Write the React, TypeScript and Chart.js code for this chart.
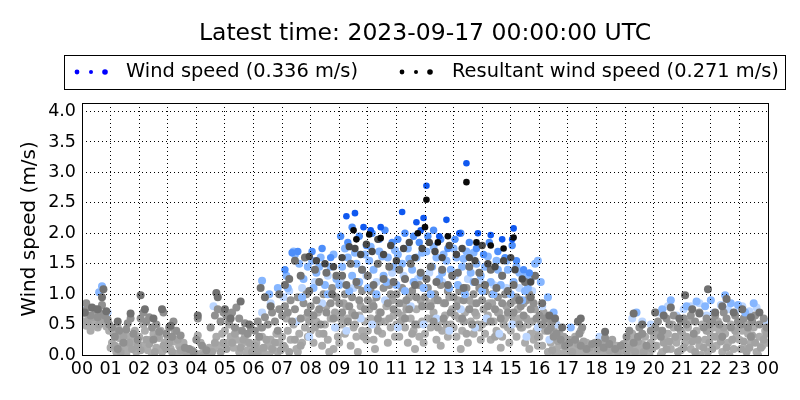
import React, { useEffect, useRef } from "react";
import { Chart, registerables } from "chart.js";

Chart.register(...registerables);

const titleText = "Latest time: 2023-09-17 00:00:00 UTC";
const yAxisTitle = "Wind speed (m/s)";
const legendLabels = ["Wind speed (0.336 m/s)", "Resultant wind speed (0.271 m/s)"];
const hourLabels = ["00","01","02","03","04","05","06","07","08","09","10","11","12","13","14","15","16","17","18","19","20","21","22","23","00"];
const yTickValues = [0, 0.5, 1, 1.5, 2, 2.5, 3, 3.5, 4];
const yMax = 4.14;

// [hour of day, speed m/s] — oldest days (gray)
const oldestGray: number[][] = [
  [0.05,0.55],[0.15,0.48],[0.25,0.62],[0.35,0.5],[0.45,0.58],[0.55,0.45],[0.65,0.6],[0.75,0.52],[0.85,0.47],[0.95,0.4],[0.1,0.68],[0.5,0.7],[0.3,0.4],
  [1.05,0.2],[1.1,0.35],[1.2,0.05],[1.3,0.28],[1.4,0.15],[1.5,0.38],[1.6,0.1],[1.7,0.3],[1.8,0.22],[1.9,0.05],[1.25,0.45],[1.55,0.02],[1.85,0.4],[1.0,0.12],
  [2.0,0.3],[2.1,0.15],[2.2,0.4],[2.3,0.08],[2.4,0.25],[2.5,0.35],[2.6,0.12],[2.7,0.28],[2.8,0.05],[2.9,0.2],[2.15,0.5],[2.45,0.02],[2.75,0.4],
  [3.0,0.3],[3.1,0.1],[3.2,0.22],[3.3,0.02],[3.4,0.15],[3.5,0.05],[3.6,0.0],[3.7,0.02],[3.8,0.0],[3.9,0.03],[3.25,0.38],[3.55,0.2],[3.85,0.08],
  [4.0,0.02],[4.1,0.0],[4.2,0.03],[4.3,0.0],[4.4,0.02],[4.5,0.0],[4.15,0.2],[4.6,0.1],[4.7,0.3],[4.8,0.15],[4.9,0.35],[4.45,0.12],[4.05,0.32],
  [5.0,0.4],[5.1,0.2],[5.2,0.3],[5.3,0.12],[5.4,0.25],[5.5,0.05],[5.6,0.18],[5.7,0.3],[5.8,0.08],[5.9,0.15],[5.15,0.5],[5.45,0.4],[5.75,0.02],
  [6.0,0.05],[6.1,0.2],[6.2,0.1],[6.3,0.3],[6.4,0.02],[6.5,0.15],[6.6,0.25],[6.7,0.08],[6.8,0.35],[6.9,0.2],[6.25,0.45],[6.55,0.0],[6.85,0.05],
  [7.0,0.3],[7.1,0.12],[7.2,0.4],[7.3,0.25],[7.4,0.5],[7.5,0.1],[7.6,0.35],[7.7,0.2],[7.8,0.45],[7.9,0.3],[7.15,0.6],[7.55,0.05],[7.85,0.62],
  [8.0,0.4],[8.1,0.2],[8.2,0.55],[8.3,0.35],[8.4,0.15],[8.5,0.5],[8.6,0.25],[8.7,0.6],[8.8,0.1],[8.9,0.45],[8.25,0.7],[8.65,0.05],[8.95,0.3],
  [9.0,0.2],[9.1,0.5],[9.2,0.35],[9.3,0.6],[9.4,0.15],[9.5,0.45],[9.6,0.3],[9.7,0.65],[9.8,0.4],[9.9,0.55],[9.25,0.8],[9.65,0.05],[9.95,0.25],
  [10.0,0.4],[10.1,0.6],[10.2,0.25],[10.3,0.5],[10.4,0.7],[10.5,0.35],[10.6,0.55],[10.7,0.2],[10.8,0.45],[10.9,0.65],[10.25,0.1],[10.65,0.8],[10.95,0.3],
  [11.0,0.5],[11.1,0.3],[11.2,0.65],[11.3,0.45],[11.4,0.2],[11.5,0.6],[11.6,0.4],[11.7,0.75],[11.8,0.3],[11.9,0.55],[11.25,0.85],[11.65,0.1],[11.95,0.2],
  [12.0,0.35],[12.1,0.6],[12.2,0.45],[12.3,0.7],[12.4,0.25],[12.5,0.55],[12.6,0.4],[12.7,0.65],[12.8,0.3],[12.9,0.5],[12.15,0.85],[12.55,0.15],[12.95,0.75],
  [13.0,0.45],[13.1,0.3],[13.2,0.6],[13.3,0.4],[13.4,0.7],[13.5,0.2],[13.6,0.55],[13.7,0.35],[13.8,0.65],[13.9,0.45],[13.25,0.1],[13.65,0.85],[13.95,0.25],
  [14.0,0.5],[14.1,0.35],[14.2,0.65],[14.3,0.25],[14.4,0.55],[14.5,0.4],[14.6,0.7],[14.7,0.3],[14.8,0.6],[14.9,0.45],[14.25,0.85],[14.65,0.12],[14.95,0.2],
  [15.0,0.4],[15.1,0.55],[15.2,0.3],[15.3,0.6],[15.4,0.45],[15.5,0.2],[15.6,0.5],[15.7,0.35],[15.8,0.25],[15.9,0.4],[15.25,0.75],[15.65,0.1],[15.95,0.15],
  [16.0,0.3],[16.1,0.15],[16.2,0.4],[16.3,0.05],[16.4,0.2],[16.5,0.3],[16.6,0.1],[16.7,0.02],[16.8,0.15],[16.9,0.05],[16.25,0.5],[16.55,0.0],[16.95,0.2],
  [17.0,0.05],[17.1,0.15],[17.2,0.02],[17.3,0.1],[17.4,0.0],[17.5,0.05],[17.6,0.12],[17.7,0.02],[17.8,0.08],[17.9,0.0],[17.25,0.3],[17.65,0.2],[17.45,0.4],
  [18.0,0.05],[18.1,0.15],[18.2,0.02],[18.3,0.1],[18.4,0.0],[18.5,0.12],[18.6,0.05],[18.7,0.15],[18.8,0.02],[18.9,0.08],[18.35,0.22],[18.65,0.0],[18.15,0.0],
  [19.0,0.1],[19.1,0.2],[19.2,0.05],[19.3,0.25],[19.4,0.12],[19.5,0.0],[19.6,0.18],[19.7,0.3],[19.8,0.08],[19.9,0.2],[19.25,0.35],[19.55,0.1],[19.85,0.02],
  [20.0,0.3],[20.1,0.15],[20.2,0.4],[20.3,0.05],[20.4,0.25],[20.5,0.35],[20.6,0.1],[20.7,0.45],[20.8,0.2],[20.9,0.3],[20.25,0.0],[20.65,0.5],[20.95,0.08],
  [21.0,0.35],[21.1,0.2],[21.2,0.45],[21.3,0.1],[21.4,0.3],[21.5,0.4],[21.6,0.15],[21.7,0.5],[21.8,0.25],[21.9,0.05],[21.25,0.55],[21.65,0.0],[21.95,0.38],
  [22.0,0.3],[22.1,0.45],[22.2,0.15],[22.3,0.4],[22.4,0.05],[22.5,0.35],[22.6,0.2],[22.7,0.5],[22.8,0.1],[22.9,0.3],[22.25,0.55],[22.65,0.0],[22.95,0.45],
  [23.0,0.25],[23.1,0.4],[23.2,0.1],[23.3,0.35],[23.4,0.2],[23.5,0.45],[23.6,0.05],[23.7,0.3],[23.8,0.15],[23.9,0.4],[23.25,0.5],[23.65,0.0],[23.95,0.2]
];

const oldGrayLow: number[][] = [
  [16.45,0.08],[16.65,0.22],[16.85,0.3],[17.05,0.25],[17.15,0.05],[17.35,0.18],[17.55,0.22],[17.75,0.12],[17.95,0.2],[18.05,0.1],[18.25,0.2],[18.45,0.08],
  [18.55,0.25],[18.75,0.05],[18.95,0.18],[19.05,0.05],[19.15,0.12],[19.35,0.05],[19.45,0.22],[19.65,0.05],[19.75,0.12],[19.95,0.1],[20.05,0.15],[20.15,0.35],
  [20.35,0.2],[20.45,0.1],[20.55,0.22],[20.75,0.3],[20.85,0.05],[20.95,0.4],[21.05,0.12],[21.15,0.3],[21.35,0.22],[21.45,0.05],[21.55,0.25],[21.75,0.12],
  [21.85,0.4],[21.95,0.2],[22.05,0.1],[22.15,0.3],[22.35,0.22],[22.45,0.45],[22.55,0.12],[22.75,0.25],[22.85,0.4],[23.05,0.1],[23.15,0.22],[23.25,0.05],
  [23.35,0.12],[23.45,0.32],[23.55,0.2],[23.75,0.12],[23.85,0.25],[23.95,0.35],
  [0.2,0.55],[0.4,0.62],[0.6,0.5],[0.8,0.58],[1.15,0.15],[1.35,0.05],[1.45,0.3],[1.65,0.2],[1.75,0.1],[1.95,0.15],[2.05,0.08],[2.25,0.25],[2.35,0.18],
  [2.55,0.05],[2.65,0.3],[2.85,0.15],[2.95,0.1],[3.05,0.2],[3.15,0.05],[3.35,0.25],[3.45,0.08],[3.65,0.05],[3.75,0.0],[3.95,0.0],[4.25,0.0],[4.35,0.02],
  [4.55,0.05],[4.65,0.2],[4.85,0.05],[4.95,0.2],[5.05,0.1],[5.25,0.2],[5.35,0.35],[5.55,0.12],[5.65,0.25],[5.85,0.2],[5.95,0.05],[6.05,0.15],[6.15,0.05],
  [6.35,0.12],[6.45,0.25],[6.65,0.1],[6.75,0.2],[6.95,0.08],[7.05,0.15],[7.25,0.05],[7.45,0.25],[7.65,0.15],
  [7.95,0.55],[8.05,0.65],[8.15,0.45],[8.45,0.35],[8.55,0.8],[8.85,0.7],[9.05,0.6],[9.15,0.85],[9.45,0.7],[9.55,0.5],[9.75,0.8],[9.85,0.3],[10.05,0.75],
  [10.15,0.85],[10.35,0.4],[10.45,0.55],[10.75,0.6],[10.85,0.9],[11.05,0.7],[11.15,0.55],[11.35,0.75],[11.45,0.95],[11.55,0.35],[11.75,0.5],[11.85,0.9],
  [12.05,0.8],[12.25,0.6],[12.35,0.9],[12.45,0.45],[12.65,0.85],[12.75,0.5],[12.85,0.95],[13.05,0.65],[13.15,0.9],[13.35,0.55],[13.45,0.35],[13.55,0.9],
  [13.75,0.7],[13.85,0.5],[14.05,0.75],[14.15,0.55],[14.35,0.85],[14.45,0.3],[14.55,0.7],[14.75,0.5],[14.85,0.8],[15.05,0.65],[15.15,0.9],[15.35,0.45],
  [15.45,0.85],[15.55,0.6],[15.75,0.55],[15.85,0.75],[15.95,0.3],[16.05,0.5],[16.15,0.7],[16.35,0.55],[16.5,0.42],[16.7,0.35],[16.8,0.28]
];

const olderGray: number[][] = [
  [0.05,0.72],[0.2,0.78],[0.3,0.65],[0.45,0.75],[0.6,0.7],[0.7,0.82],[0.8,0.65],[0.9,0.58],[0.15,0.85],[0.55,0.62],[0.95,0.5],
  [1.05,0.45],[1.15,0.3],[1.3,0.4],[1.45,0.2],[1.6,0.52],[1.7,0.6],[1.8,0.35],[1.95,0.25],[1.25,0.1],[1.55,0.42],
  [2.05,0.6],[2.15,0.7],[2.25,0.55],[2.35,0.62],[2.45,0.45],[2.6,0.5],[2.7,0.38],[2.85,0.7],[2.95,0.35],[2.5,0.25],
  [3.05,0.45],[3.15,0.3],[3.3,0.4],[3.45,0.32],[3.6,0.12],[3.75,0.1],[3.9,0.05],[3.2,0.55],
  [4.0,0.25],[4.05,0.6],[4.2,0.15],[4.5,0.45],[4.65,0.65],[4.75,0.75],[4.85,0.55],[4.95,0.7],[4.35,0.08],
  [5.05,0.65],[5.15,0.55],[5.25,0.7],[5.35,0.45],[5.5,0.6],[5.6,0.4],[5.7,0.52],[5.8,0.35],[5.9,0.45],[5.4,0.78],
  [6.05,0.4],[6.15,0.55],[6.3,0.45],[6.4,0.62],[6.5,0.5],[6.65,0.7],[6.75,0.55],[6.9,0.75],[6.2,0.3],[6.85,0.4],
  [7.0,0.65],[7.1,0.8],[7.2,0.7],[7.3,0.9],[7.45,0.75],[7.55,0.95],[7.65,0.6],[7.75,0.85],[7.9,0.7],[7.35,0.55],[7.85,1.0],
  [8.0,0.8],[8.1,0.65],[8.2,0.9],[8.3,0.75],[8.45,1.0],[8.55,0.7],[8.7,0.85],[8.8,0.6],[8.9,0.95],[8.35,0.5],[8.75,1.1],
  [9.0,0.85],[9.1,0.7],[9.2,1.0],[9.35,0.8],[9.45,0.95],[9.55,0.65],[9.7,0.9],[9.8,1.05],[9.9,0.75],[9.3,0.55],[9.65,1.15],
  [10.0,0.9],[10.1,1.05],[10.2,0.8],[10.3,0.95],[10.45,0.7],[10.55,1.1],[10.7,0.85],[10.8,1.0],[10.9,0.75],[10.35,0.6],[10.75,1.15],
  [11.0,1.0],[11.1,0.85],[11.2,1.1],[11.35,0.9],[11.45,0.75],[11.55,1.05],[11.7,0.95],[11.8,1.15],[11.9,0.8],[11.3,0.6],[11.65,0.5],
  [12.0,0.95],[12.1,1.1],[12.2,0.8],[12.35,1.0],[12.45,0.9],[12.55,1.15],[12.7,0.85],[12.8,1.05],[12.9,0.7],[12.3,0.55],[12.65,0.6],
  [13.0,0.95],[13.1,0.8],[13.2,1.05],[13.35,0.9],[13.45,1.1],[13.55,0.75],[13.7,1.0],[13.8,0.85],[13.9,1.1],[13.3,0.6],[13.65,0.5],
  [14.0,0.9],[14.1,1.05],[14.2,0.8],[14.35,1.0],[14.45,0.75],[14.55,0.95],[14.7,0.85],[14.8,1.0],[14.9,0.7],[14.3,0.55],[14.65,0.6],
  [15.0,0.85],[15.1,0.7],[15.2,0.95],[15.35,0.8],[15.45,0.65],[15.55,0.9],[15.7,0.75],[15.8,0.85],[15.9,0.6],[15.3,0.5],[15.65,1.0],
  [16.0,0.65],[16.1,0.5],[16.2,0.6],[16.3,0.4],[16.4,0.45],[16.5,0.3],[16.6,0.35],[16.75,0.25],[16.9,0.15],[16.45,0.55],
  [17.05,0.2],[17.25,0.25],[17.45,0.15],[17.65,0.1],[17.85,0.18],[17.4,0.35],[17.5,0.45],
  [18.05,0.2],[18.25,0.12],[18.45,0.18],[18.65,0.1],[18.85,0.15],[18.3,0.28],
  [19.05,0.3],[19.15,0.4],[19.3,0.2],[19.45,0.3],[19.6,0.35],[19.75,0.15],[19.9,0.4],[19.5,0.45],
  [20.05,0.45],[20.15,0.55],[20.3,0.4],[20.45,0.6],[20.55,0.5],[20.7,0.65],[20.85,0.45],[20.95,0.55],[20.25,0.3],
  [21.05,0.6],[21.15,0.5],[21.3,0.65],[21.45,0.55],[21.6,0.7],[21.75,0.45],[21.85,0.6],[21.95,0.5],[21.4,0.35],
  [22.05,0.55],[22.15,0.65],[22.3,0.5],[22.45,0.7],[22.55,0.6],[22.7,0.45],[22.85,0.65],[22.95,0.55],[22.4,0.3],
  [23.05,0.5],[23.15,0.6],[23.3,0.45],[23.45,0.55],[23.55,0.65],[23.7,0.5],[23.85,0.6],[23.95,0.45],[23.4,0.3]
];

const windPale: number[][] = [
  [0.05,0.82],[0.9,0.7],[4.6,0.8],[6.3,0.7],[6.6,0.85],[7.05,0.95],[7.25,1.05],[7.5,0.55],[7.7,1.1],[7.95,0.3],[8.15,1.2],[8.4,0.85],[8.6,1.3],[8.85,0.45],
  [9.05,1.25],[9.25,0.4],[9.5,1.1],[9.75,0.6],[9.95,1.3],[10.15,0.5],[10.3,1.2],[10.6,0.9],[10.85,1.35],[11.05,0.45],[11.25,1.3],[11.5,0.8],[11.75,1.25],[11.95,0.5],
  [12.15,1.35],[12.4,0.6],[12.6,1.2],[12.85,0.4],[13.05,1.3],[13.25,0.75],[13.5,1.25],[13.75,0.45],[13.95,1.2],[14.15,0.6],[14.4,1.15],[14.6,0.35],[14.85,1.1],
  [15.05,0.5],[15.3,1.1],[15.55,0.3],[15.75,1.05],[15.95,0.45],[16.1,0.8],[16.35,0.25],[16.6,0.5],[18.1,0.3],[19.25,0.6],[19.6,0.55],[19.9,0.5],[20.2,0.7],
  [20.5,0.8],[20.8,0.65],[21.05,0.75],[21.3,0.8],[21.6,0.85],[21.85,0.65],[22.1,0.7],[22.35,0.82],[22.6,0.75],[22.85,0.7],[23.1,0.8],[23.35,0.72],[23.6,0.78],[23.9,0.55]
];

const windLight: number[][] = [
  [0.7,1.13],[0.6,1.03],[6.3,1.22],[6.55,1.0],[6.85,1.1],[7.15,1.3],[7.4,1.7],[7.45,1.65],[7.6,1.5],[7.75,1.25],[7.9,1.45],[8.05,1.55],[8.2,1.35],[8.35,1.6],
  [8.5,1.15],[8.7,1.45],[8.9,1.25],[9.1,1.45],[9.3,1.6],[9.45,1.3],[9.6,1.5],[9.8,1.4],[9.9,1.65],[10.05,1.55],[10.2,1.4],[10.4,1.7],[10.55,1.3],[10.7,1.6],
  [10.9,1.45],[11.05,1.65],[11.2,1.5],[11.4,1.75],[11.55,1.4],[11.7,1.6],[11.85,1.3],[12.05,1.7],[12.25,1.45],[12.4,1.6],[12.6,1.35],[12.75,1.55],[12.9,1.4],
  [13.1,1.6],[13.3,1.45],[13.45,1.7],[13.6,1.35],[13.8,1.5],[13.95,1.3],[14.1,1.45],[14.3,1.2],[14.5,1.55],[14.7,1.3],[14.9,1.4],[15.1,1.2],[15.3,1.35],
  [15.5,1.05],[15.7,1.25],[15.85,1.5],[15.95,1.55],[16.05,1.2],[16.3,0.95],[16.5,0.7],[17.1,0.45],[19.4,0.7],[20.6,0.9],[21.15,0.8],[21.5,0.88],[22.0,0.9],
  [22.5,0.98],[22.95,0.82],[23.5,0.85],
  [8.1,1.1],[8.6,1.0],[9.0,1.15],[9.35,1.05],[9.7,1.2],[10.0,1.1],[10.3,1.0],[10.65,1.2],[11.0,1.15],[11.3,1.05],[11.6,1.2],[11.95,1.1],[12.2,1.0],
  [12.5,1.25],[12.85,1.1],[13.15,1.15],[13.4,1.0],[13.7,1.2],[14.0,1.05],[14.4,1.0],[14.65,1.15],[15.0,1.0],[15.4,0.9],[15.6,1.1],[7.7,0.95],[7.2,1.1],
  [21.8,0.8],[20.3,0.75],[22.7,0.85],[23.2,0.7],
  [9.2,1.75],[9.55,1.68],[10.1,1.78],[10.5,1.62],[10.95,1.72],[11.45,1.58],[11.9,1.68],[12.3,1.78],[12.65,1.65],[13.0,1.75],[13.35,1.58],[13.7,1.68],
  [14.2,1.62],[14.55,1.4],[14.85,1.55],[15.2,1.45],[15.55,1.3],[8.8,1.65],[8.3,1.45]
];

const resultantDark: number[][] = [
  [0.1,0.7],[0.35,0.78],[0.55,0.75],[0.7,0.95],[0.85,0.72],[0.75,1.08],[1.25,0.55],[1.7,0.68],[2.05,0.98],[2.2,0.75],[2.5,0.6],[2.8,0.75],[3.1,0.48],
  [4.05,0.65],[4.7,1.02],[4.75,0.95],[5.0,0.75],[5.2,0.6],[5.55,0.88],[5.85,0.5],[6.25,1.1],[6.4,0.95],[6.6,0.8],[6.9,1.0],[7.1,1.15],[7.25,1.25],[7.45,1.55],
  [7.65,1.3],[7.8,1.6],[7.95,1.05],[8.15,1.4],[8.3,1.2],[8.55,1.35],[8.75,1.0],[8.9,1.3],[9.1,1.3],[9.25,1.15],[9.4,1.5],[9.6,1.2],[9.8,1.4],[10.0,1.3],
  [10.2,1.15],[10.35,1.5],[10.55,1.25],[10.75,1.45],[10.9,1.2],[11.1,1.4],[11.3,1.25],[11.5,1.5],[11.65,1.15],[11.85,1.35],[12.05,1.25],[12.2,1.45],[12.4,1.2],
  [12.6,1.4],[12.8,1.15],[12.95,1.3],[13.15,1.35],[13.35,1.1],[13.55,1.45],[13.75,1.2],[13.9,1.35],[14.1,1.15],[14.3,1.4],[14.5,1.1],[14.7,1.3],[14.9,1.05],
  [15.1,1.15],[15.3,0.9],[15.5,1.2],[15.7,0.95],[15.85,1.3],[16.1,0.85],[16.35,0.65],[16.55,0.6],[16.8,0.45],[17.35,0.55],[17.45,0.6],[18.3,0.38],[19.3,0.68],
  [19.6,0.5],[20.05,0.7],[20.35,0.65],[20.6,0.78],[20.9,0.6],[21.1,0.98],[21.35,0.75],[21.6,0.68],[21.9,1.08],[22.15,0.7],[22.4,0.8],[22.55,0.92],[22.8,0.7],
  [23.1,0.75],[23.4,0.62],[23.7,0.7]
];

const windRecent: number[][] = [
  [9.05,1.95],[9.3,1.85],[9.45,2.1],[9.7,1.95],[9.95,1.8],[10.15,2.0],[10.4,1.9],[10.6,2.05],[10.85,1.85],[11.05,1.9],[11.3,2.0],[11.6,1.95],[11.8,1.85],
  [12.1,1.95],[12.3,2.05],[12.55,1.9],[12.8,1.75],[13.05,1.9],[13.25,2.0],[13.55,1.85],[13.8,1.75],[14.05,1.65],[14.25,1.85],[14.55,1.7],[14.8,1.6],[15.05,1.8],
  [15.2,1.55],[15.45,1.4],[15.65,1.35],[8.05,1.7],[8.4,1.75],[8.7,1.6],[7.55,1.7],[7.35,1.68],[7.1,1.4]
];

const resultantRecent: number[][] = [
  [7.95,1.62],[8.2,1.55],[8.5,1.5],[8.8,1.45],[9.1,1.6],[9.35,1.78],[9.55,1.75],[9.75,1.65],[9.95,1.82],[10.15,1.7],[10.35,1.9],[10.55,1.65],[10.8,1.8],
  [11.0,1.55],[11.25,1.75],[11.45,1.85],[11.65,1.6],[11.9,1.75],[12.15,1.85],[12.35,1.7],[12.6,1.6],[12.85,1.8],[13.1,1.65],[13.3,1.75],[13.55,1.6],[13.75,1.55],
  [14.0,1.8],[14.2,1.5],[14.45,1.45],[14.75,1.55],[15.0,1.6],[15.15,1.4],[15.4,1.25],[15.7,1.2]
];

const windLatest: number[][] = [
  [9.25,2.28],[9.55,2.33],[9.85,2.1],[10.1,2.05],[10.45,2.1],[11.2,2.35],[11.7,2.18],[11.85,2.05],[12.05,2.78],[11.95,2.25],[12.75,2.22],[12.5,1.95],
  [13.45,3.15],[13.85,2.0],[14.3,1.97],[14.7,1.9],[15.1,2.08],[15.05,1.9],[13.2,2.0]
];

const resultantLatest: number[][] = [
  [9.5,2.05],[9.6,1.9],[10.05,1.98],[10.45,1.92],[11.75,2.0],[12.05,2.55],[12.0,2.1],[12.8,1.95],[13.45,2.84],[13.8,1.85],[14.3,1.8],[14.75,1.75],
  [15.1,1.93],[12.45,1.85]
];

const FONT = "'DejaVu Sans', 'Liberation Sans', sans-serif";

const layers = [
  { data: oldestGray, color: "#ababab", r: 4 },
  { data: oldGrayLow, color: "#a2a2a2", r: 4 },
  { data: windPale, color: "#bcd6ff", r: 4 },
  { data: olderGray, color: "#909090", r: 4 },
  { data: windLight, color: "#86b6ff", r: 4 },
  { data: resultantDark, color: "#717171", r: 4 },
  { data: windRecent, color: "#4d8efa", r: 3.7 },
  { data: resultantRecent, color: "#4a4a4a", r: 3.7 },
  { data: windLatest, color: "#0f58f0", r: 3.3 },
  { data: resultantLatest, color: "#0a0a0a", r: 3.3 },
];

const decorPlugin = {
  id: "mplDecor",
  beforeDraw(chart: any) {
    const { ctx, width, height } = chart;
    ctx.save();
    ctx.fillStyle = "#ffffff";
    ctx.fillRect(0, 0, width, height);
    ctx.restore();
  },
  afterDraw(chart: any) {
    const { ctx, chartArea } = chart;
    const { left, right, top, bottom } = chartArea;
    ctx.save();
    ctx.strokeStyle = "#000";
    ctx.lineWidth = 1;
    ctx.setLineDash([]);
    ctx.strokeRect(Math.round(left) + 0.5, Math.round(top) + 0.5, Math.round(right - left), Math.round(bottom - top));
    ctx.fillStyle = "#000";
    ctx.font = `23.5px ${FONT}`;
    ctx.textAlign = "center";
    ctx.textBaseline = "middle";
    ctx.fillText(titleText, (left + right) / 2, 34);
    ctx.font = `20px ${FONT}`;
    ctx.save();
    ctx.translate(30, (top + bottom) / 2);
    ctx.rotate(-Math.PI / 2);
    ctx.fillText(yAxisTitle, 0, 0);
    ctx.restore();
    ctx.strokeRect(64.5, 55.5, 721, 34);
    const ly = 72;
    const dots = [
      { dx: 0, r: 2.4 },
      { dx: 14, r: 2.0 },
      { dx: 28, r: 2.8 },
    ];
    const entries = [
      { x: 77, color: "#0000ff", textX: 126, label: legendLabels[0] },
      { x: 402, color: "#000000", textX: 452, label: legendLabels[1] },
    ];
    ctx.textAlign = "left";
    for (const e of entries) {
      ctx.fillStyle = e.color;
      for (const d of dots) {
        ctx.beginPath();
        ctx.arc(e.x + d.dx, ly, d.r, 0, Math.PI * 2);
        ctx.fill();
      }
      ctx.fillStyle = "#000";
      ctx.font = `19.4px ${FONT}`;
      ctx.fillText(e.label, e.textX, ly);
    }
    ctx.restore();
  },
};

export default function App() {
  const ref = useRef<HTMLCanvasElement | null>(null);
  useEffect(() => {
    if (!ref.current) return;
    const datasets = layers.map((l, i) => ({
      data: l.data.map((p) => ({ x: p[0], y: p[1] })),
      backgroundColor: l.color,
      borderWidth: 0,
      pointRadius: l.r,
      pointHoverRadius: l.r,
      order: layers.length - i,
    }));
    const chart = new Chart(ref.current, {
      type: "scatter",
      data: { datasets },
      options: {
        animation: false,
        responsive: false,
        maintainAspectRatio: false,
        events: [],
        layout: { padding: { top: 103, left: 0, right: 32, bottom: 0 } },
        plugins: {
          legend: { display: false },
          tooltip: { enabled: false },
          title: { display: false },
        },
        scales: {
          x: {
            type: "linear",
            min: 0,
            max: 24,
            afterFit: (s: any) => { s.height = 45; },
            afterBuildTicks: (s: any) => { s.ticks = hourLabels.map((_, i) => ({ value: i })); },
            ticks: {
              autoSkip: false,
              maxRotation: 0,
              padding: 4,
              color: "#000",
              font: { family: FONT, size: 17.5 },
              callback: (v: any) => hourLabels[Math.round(v)] ?? "",
            },
            grid: { color: "#000", lineWidth: 1, drawTicks: false, z: 1 },
            border: { display: false, dash: [1, 3] },
          },
          y: {
            type: "linear",
            min: 0,
            max: yMax,
            afterFit: (s: any) => { s.width = 82; },
            afterBuildTicks: (s: any) => { s.ticks = yTickValues.map((v) => ({ value: v })); },
            ticks: {
              padding: 6,
              color: "#000",
              font: { family: FONT, size: 17.5 },
              callback: (v: any) => Number(v).toFixed(1),
            },
            grid: { color: "#000", lineWidth: 1, drawTicks: false, z: 1 },
            border: { display: false, dash: [1, 3] },
          },
        },
      },
      plugins: [decorPlugin],
    } as any);
    return () => chart.destroy();
  }, []);
  return (
    <div style={{ position: "absolute", left: 0, top: 0, width: 800, height: 400, background: "#fff" }}>
      <canvas ref={ref} width={800} height={400} style={{ display: "block", width: 800, height: 400 }} />
    </div>
  );
}
